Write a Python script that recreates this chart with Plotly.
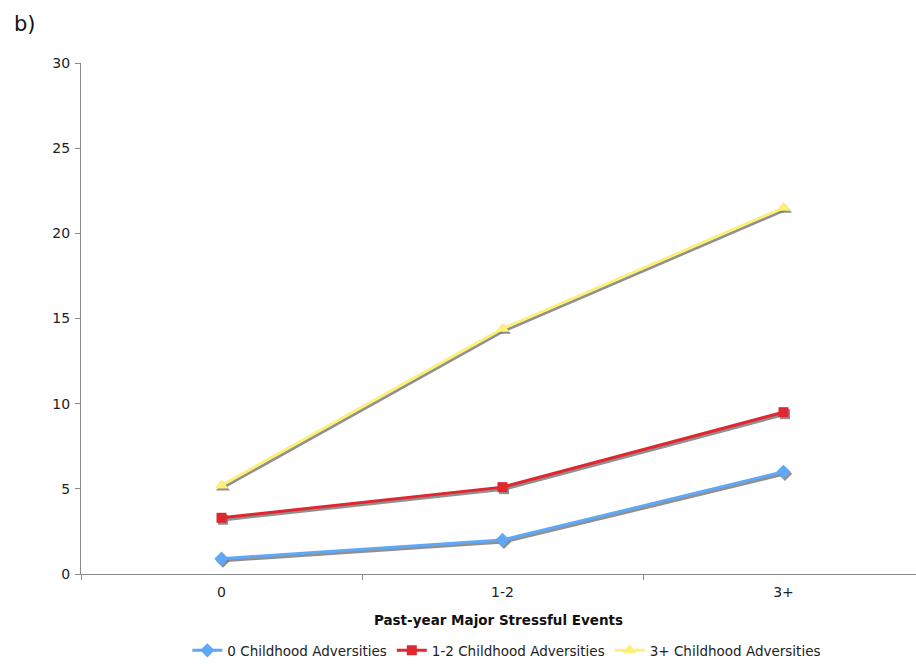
import plotly.graph_objects as go

categories = ["0", "1-2", "3+"]
series_names = ["0 Childhood Adversities", "1-2 Childhood Adversities", "3+ Childhood Adversities"]
blue_vals = [0.9, 2.0, 6.0]
red_vals = [3.3, 5.1, 9.5]
yellow_vals = [5.2, 14.4, 21.5]
y_ticks = [0, 5, 10, 15, 20, 25, 30]

colors = ["#5FA8F7", "#E0262F", "#FDF07A"]
symbols = ["diamond", "square", "triangle-up"]
sizes = [11, 10, 12]
values = [blue_vals, red_vals, yellow_vals]

FONT = "DejaVu Sans, Verdana, sans-serif"
W, H = 916, 666
ml, mr, mt, mb = 81, 0, 63, 91
plot_w = W - ml - mr
plot_h = H - mt - mb

yr = [0, 30]
xr = [-0.5, -0.5 + plot_w / 281.0]
# shadow offset in pixels (right, down)
dx_px, dy_px = 1.5, 2.0
ypu = plot_h / (yr[1] - yr[0])
xpu = plot_w / (xr[1] - xr[0])
yr_sh = [yr[0] + dy_px / ypu, yr[1] + dy_px / ypu]
xr_sh = [xr[0] - dx_px / xpu, xr[1] - dx_px / xpu]

fig = go.Figure()

# shadows on base axes (hidden, shifted range)
for name, vals, sym, sz in zip(series_names, values, symbols, sizes):
    fig.add_trace(go.Scatter(
        x=categories, y=vals, mode="lines+markers", xaxis="x", yaxis="y",
        line=dict(color="rgba(125,125,125,0.85)", width=3.2),
        marker=dict(symbol=sym, size=sz, color="rgba(125,125,125,0.85)"),
        showlegend=False, hoverinfo="skip",
    ))

# main series on overlaying axes (visible, true range)
for name, vals, col, sym, sz in zip(series_names, values, colors, symbols, sizes):
    fig.add_trace(go.Scatter(
        x=categories, y=vals, mode="lines+markers", name=name, xaxis="x2", yaxis="y2",
        line=dict(color=col, width=3),
        marker=dict(symbol=sym, size=sz, color=col),
    ))

fig.update_layout(
    width=W, height=H,
    margin=dict(l=ml, r=mr, t=mt, b=mb),
    paper_bgcolor="white", plot_bgcolor="white",
    font=dict(family=FONT, size=14, color="#222"),
    xaxis=dict(type="category", categoryarray=categories, range=xr_sh, visible=False),
    yaxis=dict(range=yr_sh, visible=False),
    xaxis2=dict(type="category", categoryarray=categories, range=xr, overlaying="x", side="bottom",
                showline=True, linecolor="#8a8a8a", linewidth=1.3,
                ticks="outside", tickson="boundaries", ticklen=5, tickcolor="#8a8a8a",
                showgrid=False, zeroline=False, ticklabelstandoff=5,
                title=dict(text="<b>Past-year Major Stressful Events</b>", font=dict(size=13.5, color="#111"), standoff=16),
                tickfont=dict(size=14)),
    yaxis2=dict(range=yr, tickvals=y_ticks, overlaying="y", side="left",
                showline=True, linecolor="#8a8a8a", linewidth=1.3,
                ticks="outside", ticklen=5, tickcolor="#8a8a8a", ticklabelstandoff=2,
                showgrid=False, zeroline=False, tickfont=dict(size=14)),
    legend=dict(orientation="h", x=0.51, xanchor="center", y=-0.150, yanchor="middle",
                font=dict(size=13.5, color="#222"), tracegroupgap=0),
    annotations=[dict(text="b)", x=(12 - ml) / plot_w, y=((H - 24) - mb) / plot_h,
                      xref="paper", yref="paper", showarrow=False,
                      font=dict(size=21, color="#111"), xanchor="left", yanchor="middle")],
)

fig.write_html("out.html")
